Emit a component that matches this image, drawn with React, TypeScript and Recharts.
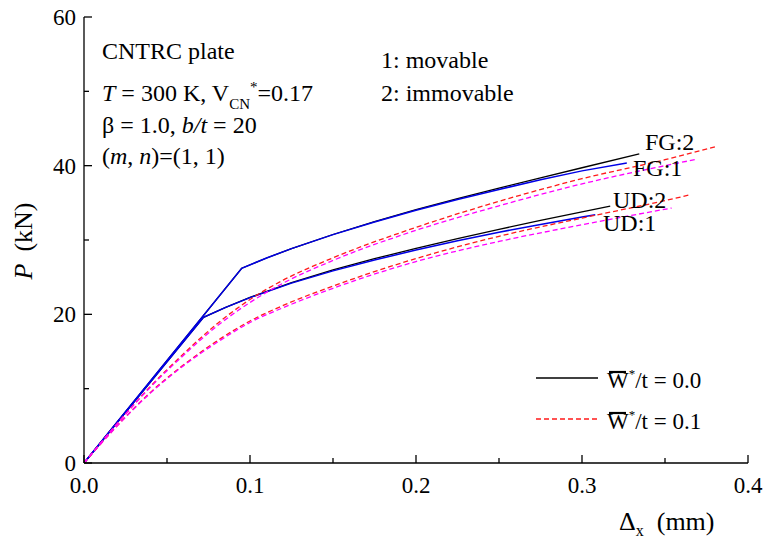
import React from "react";
import { LineChart, Line, XAxis, YAxis } from "recharts";

// [Δx (mm), P (kN)]
// W*/t = 0.0 (solid)
const fg2Solid = [
  [0, 0], [0.095, 26.2], [0.11, 27.58], [0.125, 28.84], [0.15, 30.74],
  [0.175, 32.47], [0.2, 34.07], [0.225, 35.57], [0.25, 36.99], [0.275, 38.37],
  [0.3, 39.72], [0.3345, 41.6],
];
const fg1Solid = [
  [0, 0], [0.095, 26.2], [0.11, 27.58], [0.125, 28.84], [0.15, 30.72],
  [0.175, 32.42], [0.2, 34.0], [0.225, 35.45], [0.25, 36.8], [0.275, 38.1],
  [0.3, 39.3], [0.327, 40.35],
];
const ud2Solid = [
  [0, 0], [0.072, 19.6], [0.085, 20.9], [0.1, 22.28], [0.125, 24.28],
  [0.15, 25.98], [0.175, 27.48], [0.2, 28.88], [0.225, 30.18], [0.25, 31.43],
  [0.275, 32.63], [0.3, 33.78], [0.317, 34.56],
];
const ud1Solid = [
  [0, 0], [0.072, 19.6], [0.085, 20.9], [0.1, 22.25], [0.125, 24.2],
  [0.15, 25.85], [0.175, 27.3], [0.2, 28.65], [0.225, 29.9], [0.25, 31.05],
  [0.275, 32.1], [0.3, 33.1], [0.308, 33.4],
];
// W*/t = 0.1 (dashed)
const fg2Dashed = [
  [0, 0], [0.02, 5.3], [0.04, 10.3], [0.06, 14.7], [0.08, 18.7], [0.1, 22.0],
  [0.12, 24.6], [0.15, 27.6], [0.2, 31.7], [0.25, 35.2], [0.3, 38.25],
  [0.35, 40.8], [0.381, 42.6],
];
const fg1Dashed = [
  [0, 0], [0.02, 5.3], [0.04, 10.2], [0.06, 14.5], [0.08, 18.4], [0.1, 21.6],
  [0.12, 24.2], [0.15, 27.25], [0.2, 31.3], [0.25, 34.6], [0.3, 37.55],
  [0.35, 40.0], [0.369, 40.85],
];
const ud2Dashed = [
  [0, 0], [0.02, 5.0], [0.04, 9.5], [0.06, 13.2], [0.08, 16.4], [0.1, 19.1],
  [0.12, 21.2], [0.15, 23.8], [0.2, 27.5], [0.25, 30.5], [0.3, 32.95],
  [0.35, 35.3], [0.3655, 36.1],
];
const ud1Dashed = [
  [0, 0], [0.02, 5.0], [0.04, 9.4], [0.06, 13.1], [0.08, 16.2], [0.1, 18.9],
  [0.12, 20.9], [0.15, 23.5], [0.2, 27.1], [0.25, 29.8], [0.3, 32.05],
  [0.354, 34.3],
];

const xTicks = [0, 0.05, 0.1, 0.15, 0.2, 0.25, 0.3, 0.35, 0.4];
const yTicks = [0, 10, 20, 30, 40, 50, 60];

const FONT = '"Liberation Serif", "Times New Roman", serif';
const BLUE = "#0000e6";
const RED = "#ff1a1a";
const MAGENTA = "#ff00ff";

const pts = (arr: number[][]) => arr.map(([x, y]) => ({ x, y }));

const isMajorX = (v: number) => Math.abs(v * 10 - Math.round(v * 10)) < 1e-6;
const isMajorY = (v: number) => v % 20 === 0;

const BottomTick = (props: any) => {
  const { x, y, payload } = props;
  const major = isMajorX(payload.value);
  return (
    <g>
      <line x1={x} y1={y} x2={x} y2={y - (major ? 8 : 5)} stroke="#000" strokeWidth={1.3} />
      {major && (
        <text x={x} y={y + 30} textAnchor="middle" fontSize={23} fontFamily={FONT} fill="#000">
          {payload.value.toFixed(1)}
        </text>
      )}
    </g>
  );
};

const TopTick = (props: any) => {
  const { x, y, payload } = props;
  const major = isMajorX(payload.value);
  return <line x1={x} y1={y} x2={x} y2={y + (major ? 8 : 5)} stroke="#000" strokeWidth={1.3} />;
};

const LeftTick = (props: any) => {
  const { x, y, payload } = props;
  const major = isMajorY(payload.value);
  return (
    <g>
      <line x1={x} y1={y} x2={x + (major ? 8 : 5)} y2={y} stroke="#000" strokeWidth={1.3} />
      {major && (
        <text x={x - 8} y={y + 8} textAnchor="end" fontSize={23} fontFamily={FONT} fill="#000">
          {payload.value}
        </text>
      )}
    </g>
  );
};

const RightTick = (props: any) => {
  const { x, y, payload } = props;
  const major = isMajorY(payload.value);
  return <line x1={x} y1={y} x2={x - (major ? 8 : 5)} y2={y} stroke="#000" strokeWidth={1.3} />;
};

const axisLine = { stroke: "#000", strokeWidth: 1.3 };

export default function App() {
  return (
    <div style={{ position: "absolute", left: 0, top: 0, width: 763, height: 540, background: "#fff" }}>
      <LineChart width={763} height={540} margin={{ top: 17, right: 15, bottom: 0, left: 0 }}>
        <XAxis
          xAxisId="b" dataKey="x" type="number" domain={[0, 0.4]} ticks={xTicks}
          allowDataOverflow height={77} tickSize={0} tickMargin={0}
          axisLine={axisLine} tickLine={false} tick={<BottomTick />} interval={0}
        />
        <XAxis
          xAxisId="t" orientation="top" dataKey="x" type="number" domain={[0, 0.4]} ticks={xTicks}
          allowDataOverflow height={0} tickSize={0} tickMargin={0}
          axisLine={axisLine} tickLine={false} tick={<TopTick />} interval={0}
        />
        <YAxis
          yAxisId="l" type="number" domain={[0, 60]} ticks={yTicks} allowDataOverflow
          width={84} tickSize={0} tickMargin={0}
          axisLine={axisLine} tickLine={false} tick={<LeftTick />} interval={0}
        />
        <YAxis
          yAxisId="r" orientation="right" type="number" domain={[0, 60]} ticks={yTicks} allowDataOverflow
          width={0} tickSize={0} tickMargin={0}
          axisLine={axisLine} tickLine={false} tick={<RightTick />} interval={0}
        />

        <Line xAxisId="b" yAxisId="l" data={pts(fg2Solid)} dataKey="y" type="linear" stroke="#000" strokeWidth={1.3} dot={false} isAnimationActive={false} />
        <Line xAxisId="b" yAxisId="l" data={pts(ud2Solid)} dataKey="y" type="linear" stroke="#000" strokeWidth={1.3} dot={false} isAnimationActive={false} />
        <Line xAxisId="b" yAxisId="l" data={pts(fg1Solid)} dataKey="y" type="linear" stroke={BLUE} strokeWidth={1.5} dot={false} isAnimationActive={false} />
        <Line xAxisId="b" yAxisId="l" data={pts(ud1Solid)} dataKey="y" type="linear" stroke={BLUE} strokeWidth={1.5} dot={false} isAnimationActive={false} />
        <Line xAxisId="b" yAxisId="l" data={pts(fg2Dashed)} dataKey="y" type="monotone" stroke={RED} strokeWidth={1.3} strokeDasharray="5 3" dot={false} isAnimationActive={false} />
        <Line xAxisId="b" yAxisId="l" data={pts(ud2Dashed)} dataKey="y" type="monotone" stroke={RED} strokeWidth={1.3} strokeDasharray="5 3" dot={false} isAnimationActive={false} />
        <Line xAxisId="b" yAxisId="l" data={pts(fg1Dashed)} dataKey="y" type="monotone" stroke={MAGENTA} strokeWidth={1.3} strokeDasharray="5 3" dot={false} isAnimationActive={false} />
        <Line xAxisId="b" yAxisId="l" data={pts(ud1Dashed)} dataKey="y" type="monotone" stroke={MAGENTA} strokeWidth={1.3} strokeDasharray="5 3" dot={false} isAnimationActive={false} />
      </LineChart>

      <svg
        width={763}
        height={540}
        style={{ position: "absolute", left: 0, top: 0, pointerEvents: "none" }}
        fontFamily={FONT}
        fill="#000"
      >
        {/* axis titles */}
        <text transform="translate(32,241) rotate(-90)" textAnchor="middle" fontSize={26}>
          <tspan fontStyle="italic">P</tspan>
          <tspan dx={12}>(kN)</tspan>
        </text>
        <text x={619} y={530} fontSize={26}>
          Δ<tspan fontSize={16} dy={6}>x</tspan>
          <tspan dy={-6} dx={13}>(mm)</tspan>
        </text>

        {/* info block */}
        <text x={102} y={59} fontSize={24}>CNTRC plate</text>
        <text x={102} y={101} fontSize={24}>
          <tspan fontStyle="italic">T</tspan> = 300 K, V
          <tspan fontSize={15} dy={8}>CN</tspan>
          <tspan fontSize={15} dy={-17}>*</tspan>
          <tspan dy={9}>=0.17</tspan>
        </text>
        <text x={102} y={133} fontSize={24}>
          β = 1.0, <tspan fontStyle="italic">b/t</tspan> = 20
        </text>
        <text x={102} y={164} fontSize={24}>
          (<tspan fontStyle="italic">m</tspan>, <tspan fontStyle="italic">n</tspan>)=(1, 1)
        </text>

        <text x={381} y={68} fontSize={24}>1: movable</text>
        <text x={381} y={101} fontSize={24}>2: immovable</text>

        {/* curve labels */}
        <text x={645} y={150} fontSize={24}>FG:2</text>
        <text x={633} y={176} fontSize={24}>FG:1</text>
        <text x={613} y={208} fontSize={24}>UD:2</text>
        <text x={603} y={231} fontSize={24}>UD:1</text>

        {/* legend */}
        <line x1={536} y1={378} x2={598} y2={378} stroke="#000" strokeWidth={1.3} />
        <line x1={609} y1={372} x2={626} y2={372} stroke="#000" strokeWidth={2.2} />
        <text x={607} y={388} fontSize={23}>
          W<tspan fontSize={13} dy={-10}>*</tspan>
          <tspan dy={10}>/t = 0.0</tspan>
        </text>
        <line x1={536} y1={419} x2={598} y2={419} stroke={RED} strokeWidth={1.3} strokeDasharray="5 3" />
        <line x1={609} y1={413} x2={626} y2={413} stroke="#000" strokeWidth={2.2} />
        <text x={607} y={429} fontSize={23}>
          W<tspan fontSize={13} dy={-10}>*</tspan>
          <tspan dy={10}>/t = 0.1</tspan>
        </text>
      </svg>
    </div>
  );
}
